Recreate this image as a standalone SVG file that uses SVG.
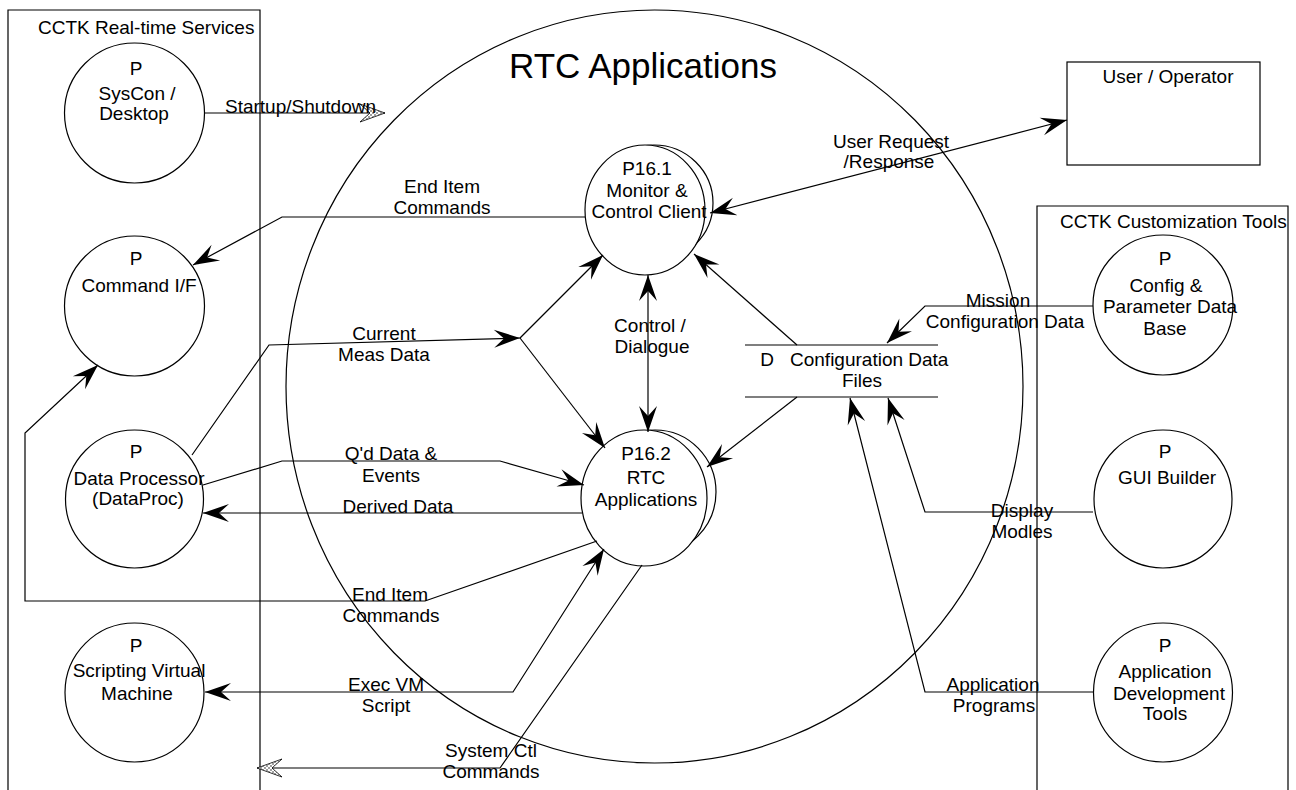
<svg xmlns="http://www.w3.org/2000/svg" width="1296" height="790" viewBox="0 0 1296 790">
  <style>
    text { font-family: "Liberation Sans", Arial, sans-serif; font-size: 19px; fill: #000; }
    .c { text-anchor: middle; }
    .title { font-size: 35px; }
    .shape { fill: none; stroke: #000; stroke-width: 1.2; }
    .solid { fill: #fff; stroke: #000; stroke-width: 1.2; }
    .flow { fill: none; stroke: #000; stroke-width: 1.2; }
    .fwd { marker-end: url(#arr); }
    .both { marker-start: url(#arr); marker-end: url(#arr); }
    .hollow { marker-end: url(#harr); }
  </style>
  <defs>
    <pattern id="hatch" width="4" height="4" patternUnits="userSpaceOnUse">
      <rect width="4" height="4" fill="#fff"/>
      <path d="M0,0 L4,4 M4,0 L0,4" stroke="#777" stroke-width="0.7"/>
    </pattern>
    <marker id="arr" viewBox="-28 -11 30 22" refX="0" refY="0" markerWidth="30" markerHeight="22" markerUnits="userSpaceOnUse" orient="auto-start-reverse">
      <path d="M0,0 L-26,-9 L-16,0 L-26,9 Z" fill="#000"/>
    </marker>
    <marker id="harr" viewBox="-28 -12 30 24" refX="0" refY="0" markerWidth="30" markerHeight="24" markerUnits="userSpaceOnUse" orient="auto">
      <path d="M0,0 L-25,-9 L-15,0 L-25,9 Z" fill="url(#hatch)" stroke="#000" stroke-width="0.8"/>
    </marker>
  </defs>

  <rect width="1296" height="790" fill="#fff"/>

  <!-- boundary boxes -->
  <g id="realtime-services">
    <path class="shape" d="M8,795 V10 H260 V795"/>
    <text x="38" y="34">CCTK Real-time Services</text>
  </g>
  <g id="customization-tools">
    <path class="shape" d="M1037,795 V206 H1288 V795"/>
    <text x="1060" y="228">CCTK Customization Tools</text>
  </g>

  <!-- main process boundary -->
  <g id="rtc-applications">
    <ellipse class="shape" cx="654.5" cy="386.5" rx="368.5" ry="376.5"/>
    <text class="c title" x="643" y="78">RTC Applications</text>
  </g>

  <!-- external entity -->
  <g id="user-operator">
    <rect class="shape" x="1067" y="62" width="193" height="103"/>
    <text class="c" x="1168" y="83">User / Operator</text>
  </g>

  <!-- real-time services processes -->
  <g id="syscon">
    <circle class="shape" cx="134.5" cy="113" r="70"/>
    <text class="c" x="136" y="75">P</text>
    <text class="c" x="137" y="100">SysCon /</text>
    <text class="c" x="134" y="120">Desktop</text>
  </g>
  <g id="command-if">
    <circle class="shape" cx="134.5" cy="306" r="70"/>
    <text class="c" x="136" y="265">P</text>
    <text class="c" x="139" y="292">Command I/F</text>
  </g>
  <g id="data-processor">
    <circle class="shape" cx="134.5" cy="499" r="69"/>
    <text class="c" x="136" y="458">P</text>
    <text class="c" x="139" y="485">Data Processor</text>
    <text class="c" x="138" y="505">(DataProc)</text>
  </g>
  <g id="scripting-vm">
    <circle class="shape" cx="134.5" cy="692.5" r="69.5"/>
    <text class="c" x="136" y="652">P</text>
    <text class="c" x="139" y="677">Scripting Virtual</text>
    <text class="c" x="137" y="700">Machine</text>
  </g>

  <!-- customization tools processes -->
  <g id="config-db">
    <circle class="shape" cx="1163" cy="305" r="70"/>
    <text class="c" x="1165" y="265">P</text>
    <text class="c" x="1166" y="292">Config &amp;</text>
    <text class="c" x="1170" y="313">Parameter Data</text>
    <text class="c" x="1165" y="335">Base</text>
  </g>
  <g id="gui-builder">
    <circle class="shape" cx="1163" cy="499" r="69"/>
    <text class="c" x="1165" y="458">P</text>
    <text class="c" x="1167" y="484">GUI Builder</text>
  </g>
  <g id="app-dev-tools">
    <circle class="shape" cx="1163" cy="692.5" r="69.5"/>
    <text class="c" x="1165" y="652">P</text>
    <text class="c" x="1165" y="678">Application</text>
    <text class="c" x="1169" y="700">Development</text>
    <text class="c" x="1165" y="720">Tools</text>
  </g>

  <!-- inner processes (multiple-instance outline: back copy, then front) -->
  <g id="p16-1">
    <ellipse class="solid" cx="654" cy="203" rx="59" ry="58"/>
    <ellipse class="solid" cx="645" cy="210" rx="60" ry="65"/>
    <text class="c" x="647" y="175">P16.1</text>
    <text class="c" x="647" y="197">Monitor &amp;</text>
    <text class="c" x="649" y="218">Control Client</text>
  </g>
  <g id="p16-2">
    <ellipse class="solid" cx="655" cy="492" rx="61" ry="62"/>
    <ellipse class="solid" cx="644" cy="498" rx="63" ry="68"/>
    <text class="c" x="646" y="460">P16.2</text>
    <text class="c" x="646" y="484">RTC</text>
    <text class="c" x="646" y="506">Applications</text>
  </g>

  <!-- data store -->
  <g id="config-data-files">
    <path class="shape" d="M745,345 H938 M745,397 H938"/>
    <text class="c" x="767" y="366">D</text>
    <text x="790" y="366">Configuration Data</text>
    <text class="c" x="862" y="387">Files</text>
  </g>

  <!-- data flows -->
  <g id="connectors">
    <path class="flow hollow" d="M205,113 H385"/>
    <path class="flow fwd" d="M585,217 H282 L193,265"/>
    <path class="flow both" d="M710,213 L1067,120"/>
    <path class="flow fwd" d="M192,455 L269,345 L520,338"/>
    <path class="flow fwd" d="M520,338 L603,255"/>
    <path class="flow fwd" d="M520,338 L605,448"/>
    <path class="flow both" d="M648,275 V432"/>
    <path class="flow fwd" d="M797,345 L694,254"/>
    <path class="flow fwd" d="M797,397 L707,467"/>
    <path class="flow fwd" d="M203,485 L282,461 H500 L584,485"/>
    <path class="flow fwd" d="M582,513 H203"/>
    <path class="flow fwd" d="M597,541 L425,601 H25 V433 L98,365"/>
    <path class="flow both" d="M205,692 H513 L604,549"/>
    <path class="flow hollow" d="M642,565 L500,768 H257"/>
    <path class="flow fwd" d="M1093,306 H925 L887,343"/>
    <path class="flow fwd" d="M1093,512 H925 L888,398"/>
    <path class="flow fwd" d="M1093,692 H925 L850,398"/>

    <text x="225" y="113">Startup/Shutdown</text>
    <text class="c" x="442" y="193">End Item</text>
    <text class="c" x="442" y="214">Commands</text>
    <text class="c" x="891" y="148">User Request</text>
    <text class="c" x="889" y="168">/Response</text>
    <text class="c" x="384" y="340">Current</text>
    <text class="c" x="384" y="361">Meas Data</text>
    <text class="c" x="650" y="332">Control /</text>
    <text class="c" x="652" y="353">Dialogue</text>
    <text class="c" x="391" y="460">Q'd Data &amp;</text>
    <text class="c" x="391" y="482">Events</text>
    <text class="c" x="398" y="513">Derived Data</text>
    <text class="c" x="390" y="601">End Item</text>
    <text class="c" x="391" y="622">Commands</text>
    <text class="c" x="386" y="691">Exec VM</text>
    <text class="c" x="386" y="712">Script</text>
    <text class="c" x="491" y="757">System Ctl</text>
    <text class="c" x="491" y="778">Commands</text>
    <text class="c" x="998" y="307">Mission</text>
    <text class="c" x="1005" y="328">Configuration Data</text>
    <text class="c" x="1022" y="517">Display</text>
    <text class="c" x="1022" y="538">Modles</text>
    <text class="c" x="993" y="691">Application</text>
    <text class="c" x="994" y="712">Programs</text>
  </g>
</svg>
